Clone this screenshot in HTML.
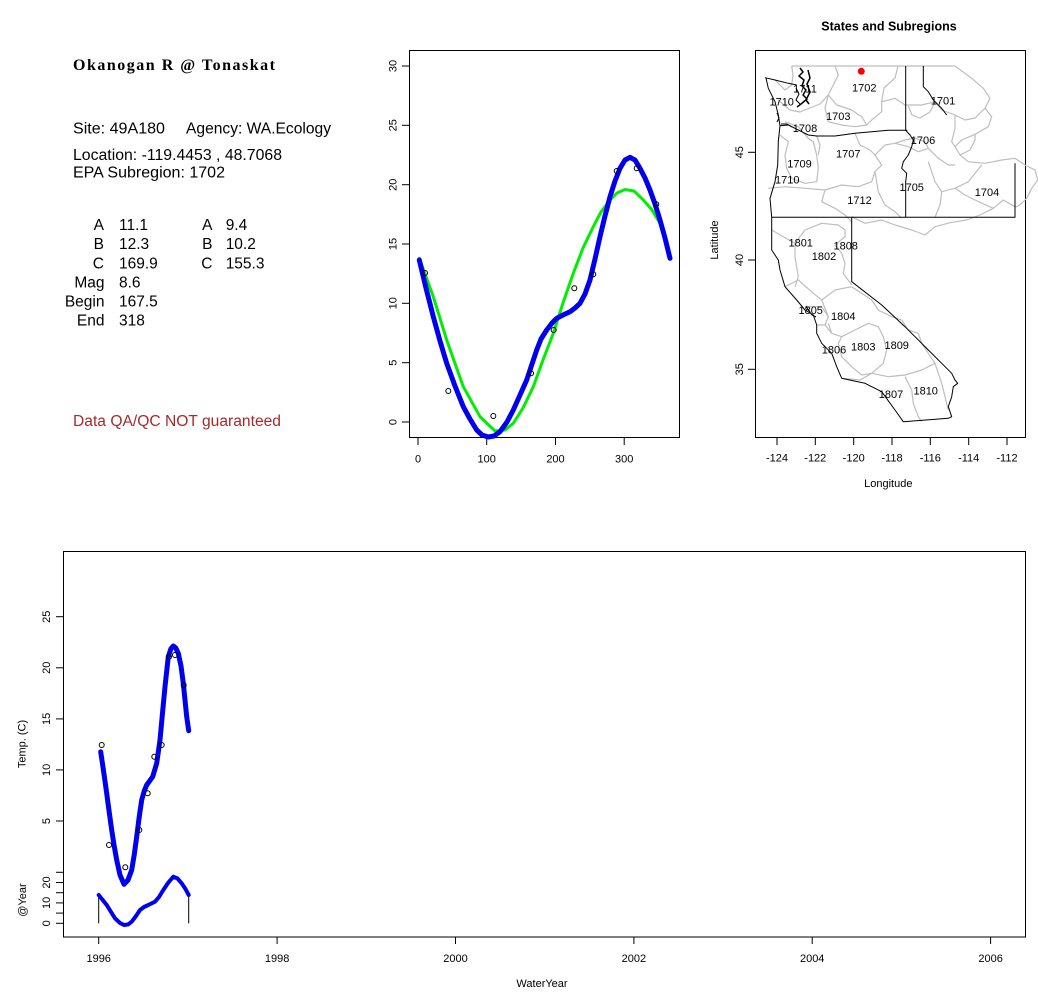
<!DOCTYPE html>
<html><head><meta charset="utf-8"><style>
html,body{margin:0;padding:0;background:#fff;}
svg{display:block;}
text{font-family:"Liberation Sans",Arial,sans-serif;fill:#000;}
</style></head><body>
<svg width="1038" height="1001" viewBox="0 0 1038 1001" xmlns="http://www.w3.org/2000/svg">
<rect width="1038" height="1001" fill="#fff"/>

<!-- ===== Info text ===== -->
<text x="73" y="70" style="font-family:'Liberation Serif',serif;font-weight:bold;font-size:16px" textLength="202" lengthAdjust="spacing">Okanogan R @ Tonaskat</text>
<g font-size="15.5">
<text x="73" y="133.5" textLength="92" lengthAdjust="spacingAndGlyphs">Site: 49A180</text>
<text x="186" y="133.5" textLength="145" lengthAdjust="spacingAndGlyphs">Agency: WA.Ecology</text>
<text x="73" y="160" textLength="209" lengthAdjust="spacingAndGlyphs">Location: -119.4453 , 48.7068</text>
<text x="73" y="177.7" textLength="152" lengthAdjust="spacingAndGlyphs">EPA Subregion: 1702</text>
<g text-anchor="end">
<text x="104" y="230">A</text>
<text x="104" y="249.1">B</text>
<text x="104" y="268.3">C</text>
<text x="104.5" y="287.4">Mag</text>
<text x="104.5" y="306.5">Begin</text>
<text x="104.5" y="325.6">End</text>
<text x="212.5" y="230">A</text>
<text x="212.5" y="249.1">B</text>
<text x="212.5" y="268.3">C</text>
</g>
<text x="119" y="230">11.1</text>
<text x="119" y="249.1">12.3</text>
<text x="119" y="268.3">169.9</text>
<text x="119" y="287.4">8.6</text>
<text x="119" y="306.5">167.5</text>
<text x="119" y="325.6">318</text>
<text x="225.7" y="230">9.4</text>
<text x="225.7" y="249.1">10.2</text>
<text x="225.7" y="268.3">155.3</text>
<text x="73" y="426" style="fill:#a52a2a" textLength="208" lengthAdjust="spacingAndGlyphs">Data QA/QC NOT guaranteed</text>
</g>

<!-- ===== Top middle chart ===== -->
<rect x="409.5" y="50.5" width="270" height="387" fill="none" stroke="#000" stroke-width="1"/>
<g stroke="#000" stroke-width="1">
<line x1="402" y1="422" x2="409" y2="422"/>
<line x1="402" y1="362.7" x2="409" y2="362.7"/>
<line x1="402" y1="303.3" x2="409" y2="303.3"/>
<line x1="402" y1="244" x2="409" y2="244"/>
<line x1="402" y1="184.7" x2="409" y2="184.7"/>
<line x1="402" y1="125.3" x2="409" y2="125.3"/>
<line x1="402" y1="66" x2="409" y2="66"/>
<line x1="418" y1="438" x2="418" y2="445"/>
<line x1="486.7" y1="438" x2="486.7" y2="445"/>
<line x1="555.5" y1="438" x2="555.5" y2="445"/>
<line x1="624.2" y1="438" x2="624.2" y2="445"/>
</g>
<g font-size="11" text-anchor="middle">
<text transform="translate(396.5,422) rotate(-90)">0</text>
<text transform="translate(396.5,362.7) rotate(-90)">5</text>
<text transform="translate(396.5,303.3) rotate(-90)">10</text>
<text transform="translate(396.5,244) rotate(-90)">15</text>
<text transform="translate(396.5,184.7) rotate(-90)">20</text>
<text transform="translate(396.5,125.3) rotate(-90)">25</text>
<text transform="translate(396.5,66) rotate(-90)">30</text>
<text x="418" y="462.3">0</text>
<text x="486.7" y="462.3">100</text>
<text x="555.5" y="462.3">200</text>
<text x="624.2" y="462.3">300</text>
</g>
<polyline fill="none" stroke="#00ee00" stroke-width="3" stroke-linejoin="round" stroke-linecap="round"
 points="419.3,258.3 433.3,296.7 446.7,340 456.7,368.3 463.3,386.7 480,416.7 495,431 505,430 513.3,423.3 523,408 533.3,386.7 543,360 553.3,333.3 563,303 573.3,273.3 583,248 593.3,226.7 601,212 610,200 617,193 625,189.5 634,191 643.3,200 652,210 660,223.3 670,256.7"/>
<polyline fill="none" stroke="#0000ee" stroke-width="5" stroke-linejoin="round" stroke-linecap="round"
 points="419.3,260 426,288 433.3,316.7 440,341 446.7,363.3 455,386 463.3,406.7 470,419 476.7,430 482,435 488.3,437 494,436 500,431.7 507,422 513.3,410 520,395 526.7,380 532,364 536.7,350 541,339 546.7,330 552,323 556.7,318.3 563,315 570,311.7 575,308 580,303.3 585,294 590,280 595,259 600,236.7 605,216 610,196.7 615,181 620,168.3 625,160 630,157.3 635,160 640,168.3 645,178 650,190 655,204 660,220 665,238 670,258.3"/>
<g fill="none" stroke="#000" stroke-width="1">
<circle cx="425" cy="273" r="2.5"/>
<circle cx="448.3" cy="391" r="2.5"/>
<circle cx="493.3" cy="416" r="2.5"/>
<circle cx="531" cy="373.3" r="2.5"/>
<circle cx="553.7" cy="330" r="2.5"/>
<circle cx="574.3" cy="288.3" r="2.5"/>
<circle cx="593.3" cy="274.3" r="2.5"/>
<circle cx="616.7" cy="171" r="2.5"/>
<circle cx="636.7" cy="168.3" r="2.5"/>
<circle cx="656.3" cy="204.3" r="2.5"/>
</g>

<!-- ===== Map ===== -->
<text x="889" y="30.5" font-size="12.5" font-weight="bold" text-anchor="middle">States and Subregions</text>
<rect x="755.5" y="50.5" width="270" height="387" fill="none" stroke="#000" stroke-width="1"/>
<g stroke="#000" stroke-width="1">
<line x1="777" y1="438" x2="777" y2="445"/>
<line x1="815.3" y1="438" x2="815.3" y2="445"/>
<line x1="853.7" y1="438" x2="853.7" y2="445"/>
<line x1="892" y1="438" x2="892" y2="445"/>
<line x1="930.3" y1="438" x2="930.3" y2="445"/>
<line x1="968.7" y1="438" x2="968.7" y2="445"/>
<line x1="1007" y1="438" x2="1007" y2="445"/>
<line x1="748" y1="152.3" x2="755" y2="152.3"/>
<line x1="748" y1="260" x2="755" y2="260"/>
<line x1="748" y1="369.3" x2="755" y2="369.3"/>
</g>
<g font-size="11" text-anchor="middle">
<text x="777" y="461.7">-124</text>
<text x="815.3" y="461.7">-122</text>
<text x="853.7" y="461.7">-120</text>
<text x="892" y="461.7">-118</text>
<text x="930.3" y="461.7">-116</text>
<text x="968.7" y="461.7">-114</text>
<text x="1007" y="461.7">-112</text>
<text x="888.3" y="487">Longitude</text>
<text transform="translate(743,152.3) rotate(-90)">45</text>
<text transform="translate(743,260) rotate(-90)">40</text>
<text transform="translate(743,369.3) rotate(-90)">35</text>
<text transform="translate(718,240) rotate(-90)">Latitude</text>
</g>

<!-- gray subregion lines -->
<g fill="none" stroke="#bebebe" stroke-width="1.2" stroke-linejoin="round">
<path d="M791.7,66 L955,66"/>
<path d="M955,66 L971.7,78.3 L983.3,88.3 L990,98.3 L985,108.3 L991.7,116.7 L988.3,126.7 L975,134.3 L961.7,140 L955,146.7 L960,155 L968.3,161.7 L985,163.3 L1001.7,160 L1015,158.3 L1025,165 L1035,170 L1037.7,180 L1031.7,188.3 L1026.7,198.3 L1021.7,203.3 L1016.7,206.7 L1015,206.7 L1003.3,200 L993.3,208.3 L980,215 L966.7,220 L950,222.7 L935,226.7 L925,235 L911.7,230 L895,225 L881.7,220 L865,223.3 L851.7,216.7"/>
<path d="M835,66 L838.3,75 L833.3,85 L828.3,95 L836.7,105 L851.7,110 L861.7,116.7 L866.7,125 L871.7,120 L881.7,111.7 L881.7,101.7 L895,98.3 L905,105"/>
<path d="M898,66 L895,78 L884,88 L881.7,101.7"/>
<path d="M828.3,95 L825,108.3 L828.3,121.7 L841.7,125 L855,126.7 L866.7,125"/>
<path d="M905,105 L921.7,105 L935,101.7 L941.7,110 L955,115 L955,128.3 L951.7,141.7 L955,146.7"/>
<path d="M791.7,66 L793,75 L791.7,85 L785,90 L775,80"/>
<path d="M778,100 L790,110 L800,112 L810,108 L820,104 L828.3,95"/>
<path d="M785,121.7 L798.3,126.7 L808.3,138.3 L813.3,141.7 L816.7,155 L818.3,168.3 L816.7,181.7 L805,183.3 L791.7,178.3 L786.7,168.3 L785,155 L788.3,141.7 L780,135"/>
<path d="M768.3,188.3 L785,186.7 L805,188.3 L825,190 L841.7,185 L858.3,186.7 L871.7,181.7 L875,171.7 L881.7,165 L875,155 L885,145 L895,143.3 L908.3,146.7"/>
<path d="M825,190 L821.7,201.7 L835,208.3 L845,215 L851.7,221.7"/>
<path d="M875,171.7 L878.3,191.7 L885,205 L895,211.7 L901.7,218.3"/>
<path d="M908.3,146.7 L918.3,151.7 L928.3,148.3 L938.3,158.3 L948.3,165 L955,165"/>
<path d="M928.3,161.7 L935,181.7 L941.7,191.7 L940,205 L935,217.3"/>
<path d="M941.7,191.7 L955,188.3 L968.3,181.7 L981.7,165"/>
<path d="M816.7,136 L820,145 L818.3,155"/>
<path d="M855,133.3 L860,145 L870,150 L875,155"/>
<path d="M955,115 L965,120 L975,118 L985,108.3"/>
<path d="M960,155 L970,150 L975,140 L975,134.3"/>
<path d="M955,188.3 L965,195 L975,200 L993.3,208.3"/>
<path d="M895,143.3 L905,140 L915,138 L925,142 L928.3,148.3"/>
<path d="M908.3,106 L912,115 L920,118 L930,112 L935,101.7"/>
<path d="M771.7,230 L782,236 L795,243.3 L805,230 L821.7,223.3 L838.3,225 L845,230 L845,236.7 L835,245 L841.7,253.3 L845,263.3 L843.3,273.3 L851.7,285"/>
<path d="M795,243.3 L795,256.7 L798.3,276.7 L795,286.7"/>
<path d="M785,286.7 L798.3,280 L813.3,293.3 L821.7,300 L835,290 L851.7,286.7 L861.7,293.3 L871.7,300 L878.3,310 L891.7,316.7 L901.7,320"/>
<path d="M828.3,323.3 L831.7,333.3 L841.7,336.7 L855,330 L868.3,323.3 L878.3,326.7 L883.3,336.7 L886.7,350 L883.3,363.3 L871.7,373.3 L861.7,375 L851.7,366.7 L841.7,356.7 L838.3,343.3 L841.7,336.7"/>
<path d="M805,306.7 L821.7,306.7 L828.3,316.7 L825,325"/>
<path d="M821.7,300 L828.3,316.7"/>
<path d="M901.7,320 L908.3,330 L918.3,333.3 L921.7,343.3 L928.3,353.3 L935,363.3 L938.3,373.3 L941.7,383.3 L945,396.7 L948.3,410"/>
<path d="M871.7,373.3 L888.3,376.7 L905,375 L921.7,370 L935,363.3"/>
<path d="M905,376.7 L911.7,390 L913.3,403.3 L918.3,416.7 L921.7,421.7"/>
<path d="M841.7,378.3 L860,380 L871.7,373.3"/>
<path d="M816.7,325 L825,325 L831.7,333.3"/>
</g>

<!-- black state lines -->
<g fill="none" stroke="#000" stroke-width="1" stroke-linejoin="round">
<path d="M765,77.7 L775,80 L788.3,83.3 L796.7,85"/>
<path d="M766,78 L768.3,88.3 L775,101.7 L778.3,115 L780,125.7 L778.3,141.7 L777.7,165 L775,181.7 L770,198.3 L771.7,217.3 L771.7,230 L771.7,250 L778.3,260 L780,270 L785,286.7 L796.7,300 L805,310 L813.3,315 L816.7,325 L816.7,333.3 L821.7,343.3 L831.7,353.3 L836.7,366.7 L841.7,378.3 L865,383.3 L881.7,391.7 L895,410 L903.3,421.7 L948.3,418.3 L951.7,416.7 L948.3,406.7 L951.7,396.7 L953.3,386.7 L957.7,383.3 L955,380 L951.7,373.3 L941.7,363.3 L928.3,350 L905,326.7 L881.7,305 L851.7,281.7 L851.7,217.3"/>
<path d="M780,125.7 L788.3,125 L795,128.3 L808.3,135 L816.7,136 L835,136 L855,133.3 L871.7,131.7 L888.3,130.3 L907.3,130.3"/>
<path d="M905.7,66 L905.7,130.3 L910,135 L913.3,140 L911.7,146.7 L908.3,155 L903.3,161.7 L901.7,168.3 L906.7,173.3 L905.7,181.7 L905.7,217.3"/>
<path d="M771.7,217.3 L1015,217.3 L1015,163.3"/>
<path d="M923.3,66 L923.3,86.7 L928.3,91.7 L933.3,100 L941.7,108.3 L946.7,115"/>
<path d="M800,68 L803,72 L799,76 L804,80 L802,86 L806,90 L803,95 L807,99 L801,104 L797,107" stroke-width="1.5"/>
<path d="M808,70 L810,78 L807,84 L810,92 L806,100 L809,104" stroke-width="1.5"/>
<path d="M796,88 L799,94 L796,100 L800,104"/>
<path d="M777,113 L779,118 L777,122"/>
<path d="M781,124 L787,124 L792,127"/>
<path d="M806,306 L809,311 L812,315 L816,317"/>
</g>
<circle cx="861.3" cy="71.3" r="3.5" fill="#ff0000"/>

<g font-size="11" text-anchor="middle">
<text x="805" y="92.3">1711</text>
<text x="864.3" y="91.3">1702</text>
<text x="943" y="104.5">1701</text>
<text x="781.7" y="105.7">1710</text>
<text x="838.3" y="120">1703</text>
<text x="805" y="132">1708</text>
<text x="923" y="144">1706</text>
<text x="848.3" y="157.3">1707</text>
<text x="799.5" y="167.3">1709</text>
<text x="787.3" y="183.3">1710</text>
<text x="911.7" y="191">1705</text>
<text x="987" y="196">1704</text>
<text x="859.5" y="204">1712</text>
<text x="800.7" y="246.3">1801</text>
<text x="845.7" y="249.7">1808</text>
<text x="824" y="260">1802</text>
<text x="810.7" y="314">1805</text>
<text x="843.3" y="320">1804</text>
<text x="834" y="353.3">1806</text>
<text x="863.3" y="350.7">1803</text>
<text x="896.7" y="349">1809</text>
<text x="891" y="398">1807</text>
<text x="925.7" y="394.7">1810</text>
</g>

<!-- ===== Bottom chart ===== -->
<rect x="63.5" y="551.5" width="962" height="385.5" fill="none" stroke="#000" stroke-width="1"/>
<g stroke="#000" stroke-width="1">
<line x1="98.7" y1="937" x2="98.7" y2="944"/>
<line x1="277.1" y1="937" x2="277.1" y2="944"/>
<line x1="455.5" y1="937" x2="455.5" y2="944"/>
<line x1="633.9" y1="937" x2="633.9" y2="944"/>
<line x1="812.2" y1="937" x2="812.2" y2="944"/>
<line x1="990.6" y1="937" x2="990.6" y2="944"/>
<line x1="56" y1="821" x2="63" y2="821"/>
<line x1="56" y1="769.9" x2="63" y2="769.9"/>
<line x1="56" y1="718.9" x2="63" y2="718.9"/>
<line x1="56" y1="667.8" x2="63" y2="667.8"/>
<line x1="56" y1="616.7" x2="63" y2="616.7"/>
<line x1="56" y1="923.3" x2="63" y2="923.3"/>
<line x1="56" y1="913.1" x2="63" y2="913.1"/>
<line x1="56" y1="902.9" x2="63" y2="902.9"/>
<line x1="56" y1="892.7" x2="63" y2="892.7"/>
<line x1="56" y1="882.5" x2="63" y2="882.5"/>
<line x1="56" y1="872.3" x2="63" y2="872.3"/>
<line x1="98.7" y1="895" x2="98.7" y2="923.3"/>
<line x1="188.7" y1="895" x2="188.7" y2="923.3"/>
</g>
<g font-size="11" text-anchor="middle">
<text x="98.7" y="962">1996</text>
<text x="277.1" y="962">1998</text>
<text x="455.5" y="962">2000</text>
<text x="633.9" y="962">2002</text>
<text x="812.2" y="962">2004</text>
<text x="990.6" y="962">2006</text>
<text x="542" y="987">WaterYear</text>
<text transform="translate(50,821) rotate(-90)">5</text>
<text transform="translate(50,769.9) rotate(-90)">10</text>
<text transform="translate(50,718.9) rotate(-90)">15</text>
<text transform="translate(50,667.8) rotate(-90)">20</text>
<text transform="translate(50,616.7) rotate(-90)">25</text>
<text transform="translate(50,923.3) rotate(-90)">0</text>
<text transform="translate(50,902.9) rotate(-90)">10</text>
<text transform="translate(50,882.5) rotate(-90)">20</text>
<text transform="translate(25.5,744) rotate(-90)">Temp. (C)</text>
<text transform="translate(26,900) rotate(-90)">@Year</text>
</g>
<polyline fill="none" stroke="#0000ee" stroke-width="5" stroke-linejoin="round" stroke-linecap="round"
 points="100.7,751.7 103.7,772 106.7,793.3 109.2,812 111.7,830 114.2,846 116.7,860 120,875 124,884.3 128,880 131.7,870 134.2,855 136.7,836.7 139.2,817 141.7,800 144.2,791 146.7,785 152.7,776.7 156.7,763.3 160,740 162.5,713 165,686.7 168.3,656.7 170.8,649 173.3,646 175.8,648 178.3,653.3 181,666 183.3,683.3 185,700 186.7,716.7 188.7,730.7"/>
<polyline fill="none" stroke="#0000ee" stroke-width="4" stroke-linejoin="round" stroke-linecap="round"
 points="98.7,895 106.7,905 115,918.3 120,923 124,925 128,924.5 131.7,921.7 136,916 140,910 144,907 148.3,905 155,901.7 159,897 163.3,890 168,883 173.3,876.7 177.5,878.5 181.7,883.3 185.5,889 188.7,895"/>
<g fill="none" stroke="#000" stroke-width="1">
<circle cx="101.7" cy="745" r="2.5"/>
<circle cx="109" cy="845" r="2.5"/>
<circle cx="125.3" cy="867.3" r="2.5"/>
<circle cx="139.3" cy="830" r="2.5"/>
<circle cx="147.7" cy="793.3" r="2.5"/>
<circle cx="154.3" cy="756.7" r="2.5"/>
<circle cx="161.7" cy="745" r="2.5"/>
<circle cx="169" cy="656.7" r="2.5"/>
<circle cx="175" cy="655" r="2.5"/>
<circle cx="183.7" cy="685.3" r="2.5"/>
</g>
</svg>
</body></html>
